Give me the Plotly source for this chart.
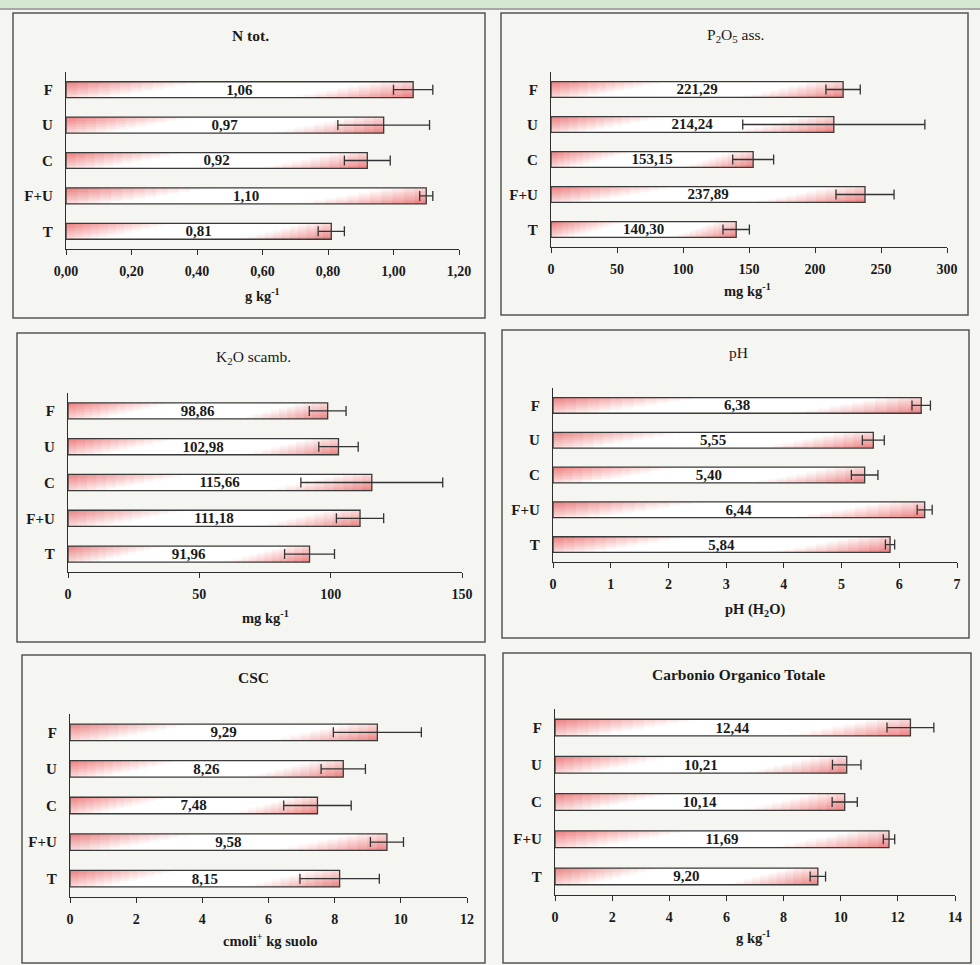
import plotly.graph_objects as go

# ---- data -------------------------------------------------------------
categories = ["F", "U", "C", "F+U", "T"]

n_tot = [1.06, 0.97, 0.92, 1.10, 0.81]
n_tot_sd = [0.06, 0.14, 0.07, 0.02, 0.04]

p2o5 = [221.29, 214.24, 153.15, 237.89, 140.30]
p2o5_sd = [13, 69, 15.5, 22, 10]

k2o = [98.86, 102.98, 115.66, 111.18, 91.96]
k2o_sd = [7, 7.5, 27, 9, 9.5]

ph = [6.38, 5.55, 5.40, 6.44, 5.84]
ph_sd = [0.16, 0.19, 0.23, 0.13, 0.08]

csc = [9.29, 8.26, 7.48, 9.58, 8.15]
csc_sd = [1.33, 0.67, 1.02, 0.50, 1.20]

cot = [12.44, 10.21, 10.14, 11.69, 9.20]
cot_sd = [0.82, 0.50, 0.44, 0.20, 0.27]

# ---- page geometry (pixels) --------------------------------------------
W, H = 980, 965
SERIF = "Liberation Serif"
INK = "#2e2e2e"
TXT = "#1a1a1a"


def fx(px):
    return px / W


def fy(py):
    return 1 - py / H


panels = [
    dict(vals=n_tot, sd=n_tot_sd, title="N tot.", tbold=True, xtitle="g kg<sup>-1</sup>",
         rng=[0, 1.2], dtick=0.2, fmt=".2f", ax=(66, 459), ay=(72, 249),
         tpos=(250, 36), xtpos=(262, 295), box=(13, 13, 485, 318)),
    dict(vals=p2o5, sd=p2o5_sd, title="P<sub>2</sub>O<sub>5</sub> ass.", tbold=False,
         xtitle="mg kg<sup>-1</sup>", rng=[0, 300], dtick=50, fmt="d", ax=(551, 947),
         ay=(72, 247), tpos=(735, 35), xtpos=(747, 290), box=(501, 13, 968, 315)),
    dict(vals=k2o, sd=k2o_sd, title="K<sub>2</sub>O scamb.", tbold=False,
         xtitle="mg kg<sup>-1</sup>", rng=[0, 150], dtick=50, fmt="d", ax=(68, 462),
         ay=(393, 572), tpos=(253, 357), xtpos=(265, 617), box=(17, 333, 485, 642)),
    dict(vals=ph, sd=ph_sd, title="pH", tbold=False, xtitle="pH (H<sub>2</sub>O)",
         rng=[0, 7], dtick=1, fmt="d", ax=(553, 957), ay=(388, 562),
         tpos=(738, 352), xtpos=(755, 610), box=(502, 330, 969, 638)),
    dict(vals=csc, sd=csc_sd, title="CSC", tbold=True, xtitle="cmoli<sup>+</sup> kg suolo",
         rng=[0, 12], dtick=2, fmt="d", ax=(70, 467), ay=(714, 897),
         tpos=(253, 677), xtpos=(270, 940), box=(22, 655, 485, 963)),
    dict(vals=cot, sd=cot_sd, title="Carbonio Organico Totale", tbold=True,
         xtitle="g kg<sup>-1</sup>", rng=[0, 14], dtick=2, fmt="d", ax=(555, 955),
         ay=(709, 895), tpos=(738, 674), xtpos=(753, 937), box=(503, 653, 971, 963)),
]

BAR_W = 0.45      # bar thickness in category units
STRIPS = 8        # horizontal bands used for the shaded fill
SEGS = 32         # pieces along the bar length
PINK = (234, 110, 110)


def shade(xf, yf):
    """Diagonal pink-white-pink shading: pink at the top-left and bottom-right."""
    p1 = 1 - xf / 0.42 - 0.7 * yf
    p2 = 1 - (1 - xf) / 0.36 - 0.7 * (1 - yf)
    p = max(0.0, min(1.0, max(p1, p2))) * 0.9
    r, g, b = (round(255 - p * (255 - c)) for c in PINK)
    return f"rgb({r},{g},{b})"


fig = go.Figure()
shapes = []
annotations = []
layout_axes = {}

# page decoration: green band and rule at the top
shapes.append(dict(type="rect", xref="paper", yref="paper", x0=0, x1=1, y0=fy(8), y1=1,
                   fillcolor="#d5e8d2", line=dict(width=0), layer="below"))
shapes.append(dict(type="line", xref="paper", yref="paper", x0=0, x1=1, y0=fy(9), y1=fy(9),
                   line=dict(color="#8c8c8c", width=1.5), layer="below"))

strip_w = BAR_W / STRIPS
for i, p in enumerate(panels, start=1):
    xa = "x" if i == 1 else f"x{i}"
    ya = "y" if i == 1 else f"y{i}"
    vals = p["vals"]

    # shaded fill built from thin bands and pieces of each bar (slightly
    # overlapping so no seams show between neighbouring pieces)
    for k in range(STRIPS):
        yf = (k + 0.5) / STRIPS
        over_w = strip_w * (1.25 if k < STRIPS - 1 else 1.0)
        for s in range(SEGS):
            xf = (s + 0.5) / SEGS
            length = 1.0 / SEGS * (1.3 if s < SEGS - 1 else 1.0)
            fig.add_trace(go.Bar(
                y=categories, x=[v * length for v in vals], base=[v * s / SEGS for v in vals],
                orientation="h", width=over_w, offset=-BAR_W / 2 + k * strip_w,
                marker=dict(color=shade(xf, yf), line=dict(width=0)),
                textposition="none", hoverinfo="skip", showlegend=False,
                xaxis=xa, yaxis=ya,
            ))

    # outline, value label and standard deviation
    fig.add_trace(go.Bar(
        y=categories, x=vals, orientation="h", width=BAR_W,
        marker=dict(color="rgba(0,0,0,0)", line=dict(color="#3a3a3a", width=1.3)),
        error_x=dict(type="data", array=p["sd"], visible=True, color="#333333",
                     thickness=1.3, width=5),
        texttemplate="%{x:.2f}", textposition="inside", insidetextanchor="middle",
        constraintext="none",
        textfont=dict(family=SERIF, size=15, color=TXT, weight="bold"),
        showlegend=False, xaxis=xa, yaxis=ya,
    ))

    xkey = "xaxis" if i == 1 else f"xaxis{i}"
    ykey = "yaxis" if i == 1 else f"yaxis{i}"
    layout_axes[xkey] = dict(
        domain=[fx(p["ax"][0]), fx(p["ax"][1])], anchor=ya, range=p["rng"],
        dtick=p["dtick"], tick0=0, tickformat=p["fmt"], showgrid=False, zeroline=False,
        showline=True, linecolor=INK, linewidth=1.3, ticks="outside", ticklen=5,
        tickcolor=INK, tickwidth=1.2, ticklabelstandoff=4, automargin=False,
        tickfont=dict(family=SERIF, size=14, color=TXT, weight="bold"),
        fixedrange=True,
    )
    layout_axes[ykey] = dict(
        domain=[fy(p["ay"][1]), fy(p["ay"][0])], anchor=xa, type="category",
        categoryorder="array", categoryarray=categories, range=[4.5, -0.5],
        showgrid=False, zeroline=False, showline=True, linecolor=INK, linewidth=1.3,
        ticks="", ticklabelstandoff=9, automargin=False,
        tickfont=dict(family=SERIF, size=15, color=TXT, weight="bold"),
        fixedrange=True,
    )

    bx0, by0, bx1, by1 = p["box"]
    shapes.append(dict(type="rect", xref="paper", yref="paper",
                       x0=fx(bx0), x1=fx(bx1), y0=fy(by1), y1=fy(by0),
                       line=dict(color="#555555", width=1.5), fillcolor="rgba(0,0,0,0)",
                       layer="below"))

    annotations.append(dict(
        text=p["title"], xref="paper", yref="paper", x=fx(p["tpos"][0]), y=fy(p["tpos"][1]),
        xanchor="center", yanchor="middle", showarrow=False,
        font=dict(family=SERIF, size=15.5, color=TXT,
                  weight="bold" if p["tbold"] else "normal"),
    ))
    annotations.append(dict(
        text=p["xtitle"], xref="paper", yref="paper", x=fx(p["xtpos"][0]), y=fy(p["xtpos"][1]),
        xanchor="center", yanchor="middle", showarrow=False,
        font=dict(family=SERIF, size=14.5, color=TXT, weight="bold"),
    ))

fig.update_layout(
    width=W, height=H, margin=dict(l=0, r=0, t=0, b=0, pad=0, autoexpand=False),
    paper_bgcolor="#f5f5f2", plot_bgcolor="rgba(0,0,0,0)",
    barmode="overlay", separators=",.", showlegend=False,
    shapes=shapes, annotations=annotations, **layout_axes,
)

fig.write_html("out.html")
